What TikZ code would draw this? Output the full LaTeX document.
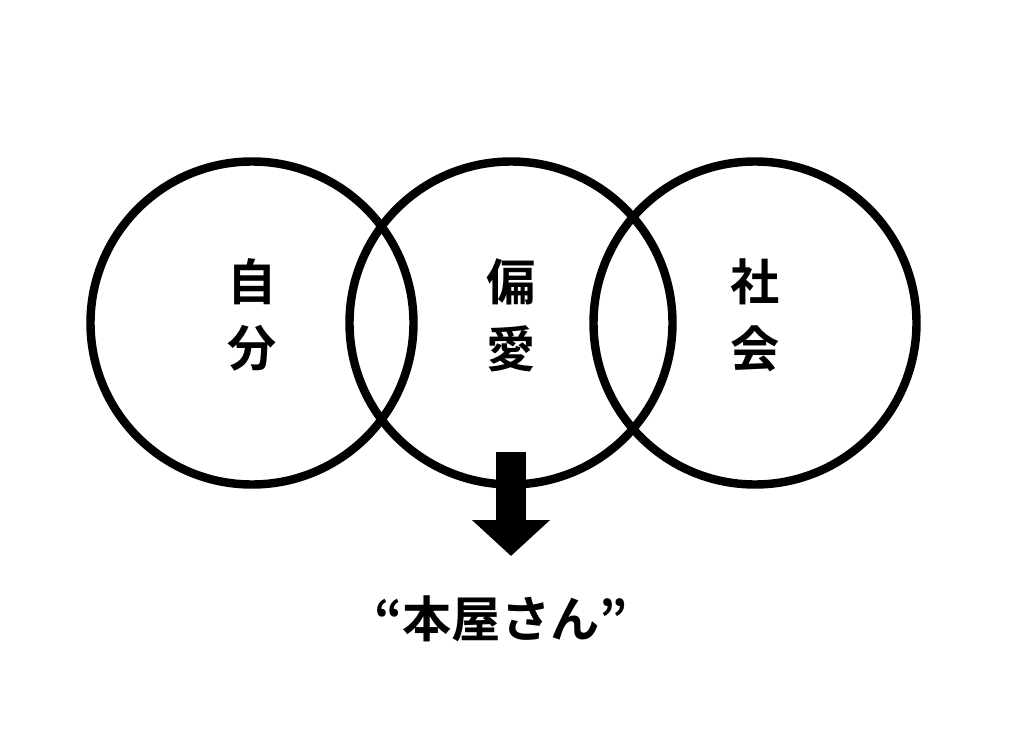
\documentclass[tikz,border=0pt]{standalone}
\usepackage{fontspec}
\newfontfamily\cjk{Noto Sans CJK JP}[BoldFont={Noto Sans CJK JP Bold}]
\usetikzlibrary{arrows.meta}
\tikzset{
  ring/.style={draw=black,line width=6pt},
  label/.style={font=\cjk\bfseries\fontsize{35}{47.5}\selectfont,align=center,inner sep=0pt},
}
\begin{document}
\begin{tikzpicture}[x=0.025cm,y=-0.025cm,line width=0.6pt]
  \useasboundingbox (0,0) rectangle (1014,736);

  % 三つの円
  \node[ring,circle,minimum size=323*0.025cm] (jibun) at (252,323) {};
  \node[ring,circle,minimum size=323*0.025cm] (henai) at (511,323) {};
  \node[ring,circle,minimum size=323*0.025cm] (shakai) at (755,323) {};

  % 円の中の文字
  \node[label] (jibunt) at (252,315) {自\\分};
  \node[label] (henait) at (511,315) {偏\\愛};
  \node[label] (shakait) at (755,315) {社\\会};

  % 下向きの太い矢印
  \coordinate (top) at (511,452);
  \coordinate (tip) at (511,556);
  \draw[line width=30*0.025cm,-{Triangle[length=36*0.025cm,width=76*0.025cm]}] (top) -- (tip);

  % 結論
  \node[label] (honya) at (501,619) {“本屋さん”};
\end{tikzpicture}
\end{document}
